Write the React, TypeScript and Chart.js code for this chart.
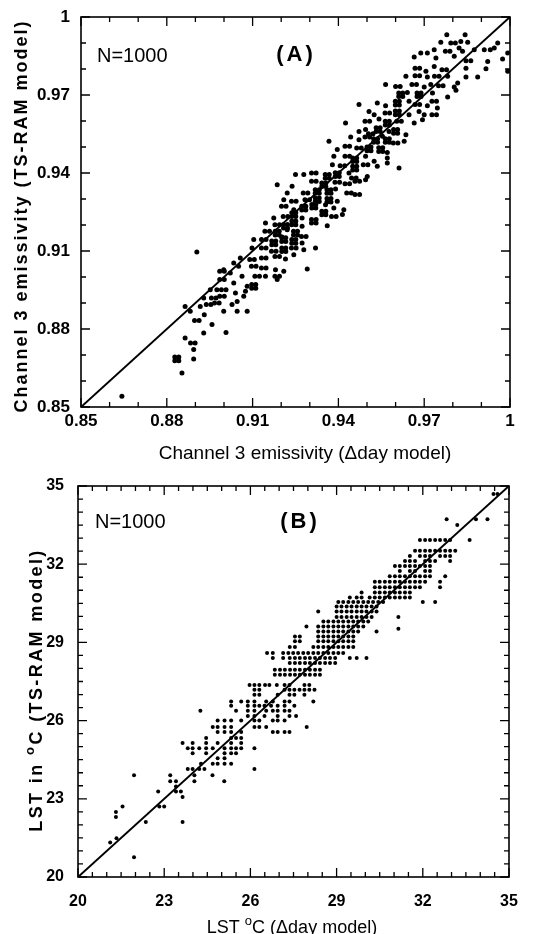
import React, { useEffect, useRef } from 'react';
import { Chart, registerables } from 'chart.js';

Chart.register(...registerables);

const FONT = "'Liberation Sans', Arial, Helvetica, sans-serif";

// ---------- Panel A : channel 3 emissivity ----------
const aTickValues = [0.85, 0.88, 0.91, 0.94, 0.97, 1];
const aTickLabels = ['0.85', '0.88', '0.91', '0.94', '0.97', '1'];
const aLine = [[0.85, 0.85], [1, 1]];
// [delta-day model, TS-RAM model]
const aPoints: number[][] = [
  [.9779,.9932],[.9843,.9932],
  [.9758,.9903],[.9793,.9900],[.9809,.9900],[.9828,.9906],[.9852,.9903],[.9957,.9900],
  [.9688,.9862],[.9711,.9862],[.9735,.9874],[.9774,.9868],[.9790,.9868],[.9822,.9881],[.9834,.9868],[.9875,.9874],[.9910,.9874],[.9931,.9874],[.9945,.9881],[.9992,.9862],
  [.9665,.9846],[.9741,.9842],[.9805,.9849],[.9846,.9832],[.9863,.9832],[.9922,.9829],[.9974,.9838],
  [.9668,.9803],[.9684,.9803],[.9706,.9791],[.9735,.9810],[.9762,.9797],[.9778,.9797],[.9846,.9803],[.9916,.9801],[.9992,.9791],
  [.9636,.9772],[.9668,.9774],[.9684,.9774],[.9711,.9769],[.9736,.9772],[.9752,.9772],[.9782,.9772],[.9846,.9769],[.9887,.9769],
  [.9565,.9740],[.9600,.9733],[.9616,.9733],[.9657,.9740],[.9673,.9740],[.9700,.9731],[.9723,.9740],[.9750,.9736],[.9766,.9736],[.9805,.9731],[.9817,.9746],
  [.9611,.9708],[.9625,.9708],[.9611,.9694],[.9625,.9694],[.9641,.9710],[.9675,.9708],[.9689,.9708],[.9675,.9694],[.9689,.9694],[.9729,.9708],[.9782,.9692],[.9811,.9718],
  [.9472,.9663],[.9536,.9669],[.9565,.9659],[.9599,.9676],[.9613,.9676],[.9599,.9662],[.9613,.9662],[.9647,.9676],[.9668,.9663],[.9684,.9663],[.9711,.9659],[.9727,.9676],[.9743,.9676],[.9746,.9650],
  [.9507,.9637],[.9525,.9624],[.9563,.9631],[.9579,.9631],[.9599,.9638],[.9613,.9638],[.9599,.9624],[.9613,.9624],[.9647,.9624],[.9682,.9637],[.9700,.9624],[.9727,.9624],[.9743,.9624],
  [.9425,.9592],[.9493,.9599],[.9509,.9599],[.9542,.9608],[.9564,.9599],[.9578,.9599],[.9564,.9585],[.9578,.9585],[.9604,.9599],[.9620,.9599],[.9665,.9592],[.9694,.9605],
  [.9472,.9560],[.9495,.9567],[.9505,.9551],[.9521,.9551],[.9532,.9574],[.9546,.9574],[.9532,.9560],[.9546,.9560],[.9577,.9560],[.9593,.9567],[.9607,.9567],[.9593,.9553],[.9607,.9553],[.9636,.9547],[.9554,.9541],
  [.9367,.9522],[.9443,.9538],[.9472,.9528],[.9493,.9538],[.9509,.9538],[.9523,.9532],[.9537,.9532],[.9523,.9518],[.9537,.9518],[.9564,.9532],[.9578,.9532],[.9564,.9518],[.9578,.9518],[.9592,.9515],[.9608,.9515],[.9630,.9522],
  [.9396,.9490],[.9423,.9503],[.9439,.9503],[.9464,.9496],[.9480,.9496],[.9500,.9500],[.9514,.9500],[.9500,.9486],[.9514,.9486],[.9541,.9497],[.9555,.9497],[.9541,.9483],[.9555,.9483],[.9571,.9479],
  [.9384,.9464],[.9423,.9464],[.9439,.9464],[.9450,.9458],[.9464,.9458],[.9450,.9444],[.9464,.9444],[.9495,.9464],[.9525,.9445],[.9571,.9458],
  [.9379,.9432],[.9406,.9428],[.9422,.9428],[.9450,.9426],[.9464,.9426],[.9450,.9412],[.9464,.9412],[.9487,.9432],[.9503,.9432],[.9536,.9426],[.9571,.9438],[.9612,.9419],
  [.9250,.9394],[.9279,.9394],[.9306,.9400],[.9322,.9400],[.9354,.9394],[.9368,.9394],[.9354,.9380],[.9368,.9380],[.9389,.9401],[.9403,.9401],[.9389,.9387],[.9403,.9387],[.9437,.9400],[.9446,.9381],[.9462,.9381],[.9501,.9387],
  [.9186,.9355],[.9238,.9349],[.9306,.9368],[.9322,.9368],[.9342,.9362],[.9356,.9362],[.9342,.9348],[.9356,.9348],[.9388,.9364],[.9404,.9364],[.9423,.9359],[.9439,.9359],[.9458,.9368],[.9474,.9368],[.9495,.9374],
  [.9221,.9323],[.9277,.9323],[.9293,.9323],[.9319,.9336],[.9333,.9336],[.9319,.9322],[.9333,.9322],[.9360,.9336],[.9374,.9336],[.9360,.9322],[.9374,.9322],[.9390,.9338],[.9429,.9323],[.9445,.9323],[.9458,.9317],[.9474,.9317],
  [.9209,.9297],[.9236,.9291],[.9252,.9291],[.9283,.9297],[.9299,.9297],[.9319,.9304],[.9333,.9304],[.9319,.9290],[.9333,.9290],[.9360,.9302],[.9374,.9302],[.9360,.9288],[.9374,.9288],[.9396,.9291],
  [.9201,.9272],[.9217,.9272],[.9244,.9259],[.9272,.9272],[.9286,.9272],[.9272,.9258],[.9286,.9258],[.9307,.9279],[.9321,.9279],[.9307,.9265],[.9321,.9265],[.9355,.9278],[.9384,.9265],[.9419,.9259],
  [.9174,.9227],[.9207,.9233],[.9223,.9233],[.9237,.9247],[.9251,.9247],[.9237,.9233],[.9251,.9233],[.9273,.9227],[.9306,.9221],[.9322,.9221],[.9342,.9253],[.9356,.9253],[.9342,.9239],[.9356,.9239],[.9376,.9233],[.9392,.9233],[.9414,.9240],
  [.9145,.9208],[.9178,.9201],[.9194,.9201],[.9208,.9202],[.9222,.9202],[.9208,.9188],[.9222,.9188],[.9237,.9215],[.9251,.9215],[.9237,.9201],[.9251,.9201],[.9273,.9195],[.9306,.9208],[.9322,.9208],[.9361,.9197],
  [.9143,.9176],[.9159,.9176],[.9179,.9176],[.9193,.9176],[.9179,.9162],[.9193,.9162],[.9221,.9182],[.9243,.9176],[.9257,.9176],[.9243,.9162],[.9257,.9162],[.9271,.9156],[.9287,.9156],[.9203,.9154],
  [.9104,.9144],[.9131,.9144],[.9147,.9144],[.9167,.9138],[.9181,.9138],[.9167,.9124],[.9181,.9124],[.9202,.9151],[.9216,.9151],[.9202,.9137],[.9216,.9137],[.9237,.9144],[.9251,.9144],[.9237,.9130],[.9251,.9130],[.9273,.9131],
  [.9098,.9112],[.9131,.9112],[.9147,.9112],[.9166,.9099],[.9182,.9099],[.9202,.9112],[.9216,.9112],[.9202,.9098],[.9216,.9098],[.9236,.9112],[.9252,.9112],[.9279,.9105],[.9320,.9112],[.8905,.9096],
  [.9057,.9073],[.9090,.9067],[.9106,.9067],[.9131,.9073],[.9147,.9073],[.9178,.9079],[.9194,.9079],[.9215,.9069],[.9244,.9086],
  [.8999,.9028],[.9034,.9054],[.9051,.9041],[.9096,.9041],[.9112,.9041],[.9131,.9035],[.9147,.9035],[.9180,.9028],[.9209,.9022],[.9291,.9031],[.9178,.9003],[.9194,.9003],
  [.8985,.9022],[.9001,.9022],[.9022,.9015],[.9063,.9003],[.9108,.9003],[.9124,.9003],[.9145,.9003],
  [.8985,.8990],[.9001,.8990],[.9034,.8977],[.9081,.8964],[.9097,.8971],[.9111,.8971],[.9097,.8957],[.9111,.8957],[.9186,.8990],
  [.8952,.8951],[.8975,.8951],[.8991,.8951],[.9007,.8951],[.9040,.8938],[.9075,.8945],
  [.8929,.8919],[.8956,.8919],[.8972,.8919],[.8985,.8926],[.9001,.8926],[.9069,.8926],[.9046,.8906],
  [.8864,.8887],[.8917,.8887],[.8938,.8894],[.8954,.8894],[.8967,.8900],[.8983,.8900],[.9028,.8894],[.9046,.8868],[.9081,.8868],[.8882,.8868],[.8931,.8855],[.8999,.8868],
  [.8897,.8833],[.8913,.8833],[.8958,.8817],[.8929,.8785],[.9007,.8787],
  [.8864,.8765],[.8883,.8746],[.8899,.8746],[.8894,.8721],[.8828,.8692],[.8842,.8692],[.8828,.8678],[.8842,.8678],[.8894,.8685],[.8853,.8631],[.8643,.8541],
];

// ---------- Panel B : LST ----------
const bTickValues = [20, 23, 26, 29, 32, 35];
const bTickLabels = ['20', '23', '26', '29', '32', '35'];
const bLine = [[20, 20], [35, 35]];
// rows: [TS-RAM LST, list of delta-day LST values]
const bRows: [number, number[]][] = [
  [34.69, [34.46, 34.60]],
  [33.72, [32.83, 33.85, 34.25]],
  [33.50, [33.20]],
  [32.93, [31.90, 32.08, 32.25, 32.43, 32.60, 32.78, 32.95, 33.63]],
  [32.52, [31.73, 31.90, 32.08, 32.25, 32.43, 32.60, 32.78, 32.95, 33.13]],
  [32.31, [31.55, 31.90, 32.08, 32.25, 32.60, 32.78, 32.95]],
  [32.12, [31.38, 31.55, 31.73, 32.08, 32.25, 32.43, 32.95]],
  [31.93, [31.03, 31.20, 31.38, 31.55, 31.73, 31.90, 32.08, 32.25]],
  [31.74, [31.20, 31.55, 31.73, 32.08, 32.25]],
  [31.54, [30.85, 31.03, 31.20, 31.38, 31.55, 31.73, 31.90, 32.08, 32.25, 32.78]],
  [31.33, [30.33, 30.50, 30.68, 30.85, 31.03, 31.20, 31.38, 31.55, 31.73, 31.90, 32.08, 32.60]],
  [31.12, [30.33, 30.50, 30.68, 30.85, 31.03, 31.20, 31.38, 31.55, 31.73, 31.90, 32.60]],
  [30.91, [29.87, 30.33, 30.50, 30.68, 30.85, 31.03, 31.20, 31.38, 31.55]],
  [30.72, [29.46, 29.70, 29.87, 30.15, 30.33, 30.50, 30.68, 30.85, 31.03, 31.20, 31.38, 31.55]],
  [30.55, [29.06, 29.23, 29.41, 29.58, 29.75, 29.93, 30.10, 30.27, 30.45, 30.62, 32.00, 32.43]],
  [30.38, [29.00, 29.17, 29.35, 29.52, 29.70, 29.87, 30.04, 30.22, 30.39]],
  [30.19, [28.36, 29.00, 29.17, 29.35, 29.52, 29.70, 29.87, 30.04, 30.22, 30.39]],
  [29.97, [29.00, 29.17, 29.35, 29.52, 29.70, 29.87, 30.04, 30.22, 31.15]],
  [29.80, [28.54, 28.71, 28.89, 29.06, 29.23, 29.41, 29.58, 29.75, 29.93, 30.10]],
  [29.61, [27.95, 28.36, 28.54, 28.71, 28.89, 29.06, 29.23, 29.41, 29.58, 29.75, 29.93]],
  [29.52, [31.15]],
  [29.42, [28.36, 28.54, 28.71, 28.89, 29.06, 29.23, 29.41, 29.58, 29.75, 30.39]],
  [29.23, [27.55, 27.72, 28.36, 28.54, 28.71, 28.89, 29.06, 29.23, 29.41, 29.58]],
  [29.04, [27.55, 27.72, 28.36, 28.54, 28.71, 28.89, 29.06, 29.23, 29.41, 29.58]],
  [28.82, [27.37, 27.55, 28.19, 28.36, 28.54, 28.71, 28.89, 29.06, 29.23, 29.41, 29.58]],
  [28.59, [26.58, 26.78, 27.14, 27.32, 27.49, 27.66, 27.84, 28.01, 28.19, 28.36, 28.54, 28.71, 28.89, 29.06, 29.23]],
  [28.40, [26.78, 27.14, 27.37, 27.55, 27.72, 27.90, 28.07, 28.25, 28.42, 28.60, 28.77, 28.95, 29.46, 29.70, 30.04]],
  [28.21, [27.37, 27.55, 27.72, 27.90, 28.07, 28.25, 28.42, 28.60, 28.77, 28.95]],
  [27.95, [26.85, 27.03, 27.20, 27.38, 27.55, 27.72, 27.90, 28.07, 28.25, 28.42]],
  [27.76, [26.85, 27.03, 27.20, 27.38, 27.55, 27.72, 27.90, 28.07, 28.25, 28.42]],
  [27.37, [25.97, 26.14, 26.31, 26.51, 26.66, 26.92, 27.19, 27.36, 27.88, 28.05]],
  [27.18, [26.14, 26.31, 27.19, 27.36, 27.53, 27.71, 27.88, 28.05, 28.23]],
  [26.99, [26.14, 26.31, 26.95, 27.36, 27.53, 27.88]],
  [26.73, [25.33, 25.68, 25.91, 26.14, 26.55, 26.78, 27.19, 27.36, 28.19]],
  [26.57, [25.33, 25.91, 26.14, 26.31, 26.49, 26.72, 26.95, 27.19, 27.53]],
  [26.38, [24.26, 25.50, 25.91, 26.14, 26.55, 26.78, 26.95, 27.19, 27.36]],
  [26.18, [25.91, 26.14, 26.49, 26.95, 27.36, 27.59]],
  [26.00, [24.86, 25.10, 25.33, 25.68, 26.14, 26.31, 26.78, 26.95, 27.19]],
  [25.75, [24.69, 24.86, 25.10, 25.33, 26.14, 26.31, 26.55, 27.96]],
  [25.56, [24.86, 25.10, 25.33, 25.68, 26.78, 26.95, 27.19, 27.36]],
  [25.33, [24.46, 25.33, 25.50, 25.68]],
  [25.14, [23.64, 23.99, 24.46, 24.86, 25.33, 25.68]],
  [24.94, [23.82, 23.99, 24.22, 24.46, 24.69, 25.10, 25.33, 25.50, 25.68, 26.14]],
  [24.75, [23.99, 24.46, 25.10, 25.33, 25.50]],
  [24.56, [24.86, 25.10]],
  [24.34, [24.28, 24.69, 24.86, 25.10, 25.33]],
  [24.14, [23.82, 23.99, 24.22, 24.40, 26.14]],
  [23.90, [21.95, 23.21, 24.05, 24.68]],
  [23.67, [23.21, 23.41, 24.05, 25.09]],
  [23.47, [23.41]],
  [23.28, [22.79, 23.41, 23.58]],
  [23.07, [23.64]],
  [22.70, [21.55, 22.83, 23.00]],
  [22.49, [21.32]],
  [22.30, [21.32]],
  [22.11, [22.36, 23.64]],
  [21.49, [21.34]],
  [21.32, [21.12]],
  [20.76, [21.95]],
];

type Seg = { text: string; sup?: boolean };
type TextItem = {
  segs: Seg[]; x: number; y: number; size: number; bold?: boolean;
  spacing?: number; rotate?: boolean; align?: 'left' | 'center';
};

interface PanelSpec {
  points: { x: number; y: number }[];
  line: { x: number; y: number }[];
  min: number; max: number;
  tickValues: number[]; tickLabels: string[];
  minorStep: number; majorEvery: number;
  leftWidth: number; bottomHeight: number; top: number; right: number;
  tickFontSize: number; xTickPad: number; yTickPad: number;
  pointRadius: number;
  texts: TextItem[];
}

function drawTextItem(ctx: CanvasRenderingContext2D, item: TextItem) {
  ctx.save();
  ctx.fillStyle = '#000';
  ctx.textBaseline = 'alphabetic';
  ctx.textAlign = 'left';
  (ctx as any).letterSpacing = (item.spacing || 0) + 'px';
  const fontFor = (s: Seg) =>
    `${item.bold ? 'bold ' : ''}${s.sup ? Math.round(item.size * 0.72) : item.size}px ${FONT}`;
  let total = 0;
  const widths = item.segs.map((s) => {
    ctx.font = fontFor(s);
    const w = ctx.measureText(s.text).width;
    total += w;
    return w;
  });
  ctx.translate(item.x, item.y);
  if (item.rotate) ctx.rotate(-Math.PI / 2);
  let cx = item.align === 'left' ? 0 : -total / 2;
  item.segs.forEach((s, i) => {
    ctx.font = fontFor(s);
    ctx.fillText(s.text, cx, s.sup ? -item.size * 0.42 : 0);
    cx += widths[i];
  });
  ctx.restore();
}

function Panel({ spec }: { spec: PanelSpec }) {
  const ref = useRef<HTMLCanvasElement | null>(null);
  useEffect(() => {
    if (!ref.current) return;
    const framePlugin = {
      id: 'frameTicks',
      afterDatasetsDraw(chart: any) {
        const { ctx, chartArea } = chart;
        const { left, right, top, bottom } = chartArea;
        const xs = chart.scales.x;
        const ys = chart.scales.y;
        ctx.save();
        ctx.strokeStyle = '#000';
        ctx.lineWidth = 1.6;
        ctx.strokeRect(left, top, right - left, bottom - top);
        ctx.lineWidth = 1.3;
        const n = Math.round((spec.max - spec.min) / spec.minorStep);
        ctx.beginPath();
        for (let i = 0; i <= n; i++) {
          const v = spec.min + i * spec.minorStep;
          const len = i % spec.majorEvery === 0 ? 9 : 5;
          const px = xs.getPixelForValue(v);
          const py = ys.getPixelForValue(v);
          ctx.moveTo(px, bottom); ctx.lineTo(px, bottom - len);
          ctx.moveTo(px, top); ctx.lineTo(px, top + len);
          ctx.moveTo(left, py); ctx.lineTo(left + len, py);
          ctx.moveTo(right, py); ctx.lineTo(right - len, py);
        }
        ctx.stroke();
        ctx.restore();
      },
      afterDraw(chart: any) {
        spec.texts.forEach((t) => drawTextItem(chart.ctx, t));
      },
    };
    const tickFont = { family: FONT, size: spec.tickFontSize, weight: 'bold' as const };
    const chart = new Chart(ref.current, {
      type: 'scatter',
      data: {
        datasets: [
          {
            data: spec.points,
            pointRadius: spec.pointRadius,
            pointBackgroundColor: '#000',
            pointBorderWidth: 0,
            pointHoverRadius: spec.pointRadius,
          },
          {
            data: spec.line,
            showLine: true,
            borderColor: '#000',
            borderWidth: 2,
            pointRadius: 0,
          } as any,
        ],
      },
      options: {
        responsive: false,
        animation: false,
        events: [],
        layout: { padding: { top: spec.top, right: spec.right, left: 0, bottom: 0 } },
        plugins: { legend: { display: false }, tooltip: { enabled: false } },
        scales: {
          x: {
            type: 'linear',
            min: spec.min,
            max: spec.max,
            afterFit: (s: any) => { s.height = spec.bottomHeight; },
            afterBuildTicks: (s: any) => { s.ticks = spec.tickValues.map((v) => ({ value: v })); },
            ticks: {
              callback: (_v: any, i: number) => spec.tickLabels[i],
              font: tickFont, color: '#000', padding: spec.xTickPad,
              maxRotation: 0, autoSkip: false,
            },
            grid: { display: false },
            border: { display: false },
          },
          y: {
            type: 'linear',
            min: spec.min,
            max: spec.max,
            afterFit: (s: any) => { s.width = spec.leftWidth; },
            afterBuildTicks: (s: any) => { s.ticks = spec.tickValues.map((v) => ({ value: v })); },
            ticks: {
              callback: (_v: any, i: number) => spec.tickLabels[i],
              font: tickFont, color: '#000', padding: spec.yTickPad, autoSkip: false,
            },
            grid: { display: false },
            border: { display: false },
          },
        },
      } as any,
      plugins: [framePlugin],
    });
    return () => chart.destroy();
  }, [spec]);
  return <canvas ref={ref} width={546} height={467} style={{ display: 'block', width: 546, height: 467 }} />;
}

const specA: PanelSpec = {
  points: aPoints.map(([x, y]) => ({ x, y })),
  line: aLine.map(([x, y]) => ({ x, y })),
  min: 0.85, max: 1,
  tickValues: aTickValues, tickLabels: aTickLabels,
  minorStep: 0.01, majorEvery: 3,
  leftWidth: 81, bottomHeight: 60, top: 17, right: 36,
  tickFontSize: 17, xTickPad: -4, yTickPad: 3,
  pointRadius: 2.5,
  texts: [
    { segs: [{ text: 'Channel 3 emissivity (TS-RAM model)' }], x: 27, y: 216, size: 18, bold: true, spacing: 2, rotate: true },
    { segs: [{ text: 'Channel 3 emissivity (\u0394day model)' }], x: 305, y: 459, size: 19 },
    { segs: [{ text: 'N=1000' }], x: 97, y: 62, size: 20, align: 'left' },
    { segs: [{ text: '(A)' }], x: 296, y: 61, size: 22, bold: true, spacing: 3 },
  ],
};

const specB: PanelSpec = {
  points: bRows.flatMap(([y, xs]) => xs.map((x) => ({ x, y }))),
  line: bLine.map(([x, y]) => ({ x, y })),
  min: 20, max: 35,
  tickValues: bTickValues, tickLabels: bTickLabels,
  minorStep: 0.5, majorEvery: 6,
  leftWidth: 78, bottomHeight: 57, top: 19, right: 37,
  tickFontSize: 16, xTickPad: 7, yTickPad: 6,
  pointRadius: 2,
  texts: [
    { segs: [{ text: 'LST in ' }, { text: 'o', sup: true }, { text: 'C (TS-RAM model)' }], x: 42, y: 223, size: 18, bold: true, spacing: 2.4, rotate: true },
    { segs: [{ text: 'LST ' }, { text: 'o', sup: true }, { text: 'C (\u0394day model)' }], x: 292, y: 466, size: 18 },
    { segs: [{ text: 'N=1000' }], x: 95, y: 61, size: 20, align: 'left' },
    { segs: [{ text: '(B)' }], x: 300, y: 61, size: 22, bold: true, spacing: 3 },
  ],
};

export default function App() {
  return (
    <div style={{ position: 'absolute', left: 0, top: 0, width: 546, height: 934, background: '#fff', overflow: 'hidden' }}>
      <Panel spec={specA} />
      <Panel spec={specB} />
    </div>
  );
}
